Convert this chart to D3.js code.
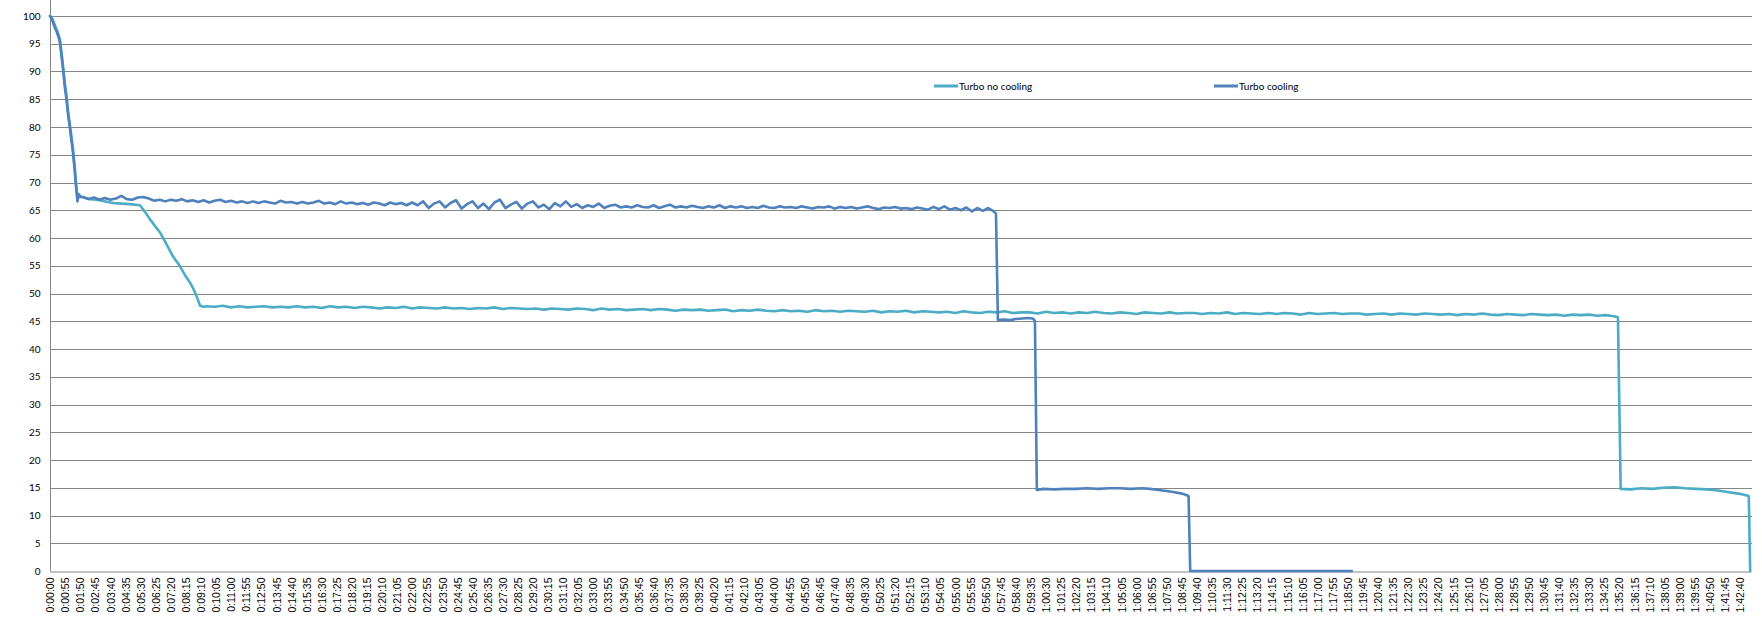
<!DOCTYPE html>
<html>
<head>
<meta charset="utf-8">
<script src="https://cdn.jsdelivr.net/npm/d3@7"></script>
<style>
  html, body { margin: 0; padding: 0; background: #fff; }
  svg { display: block; }
</style>
</head>
<body>
<svg id="chart" width="1762" height="635"></svg>
<script>
// ---------- DATA (time in seconds, value in %) ----------
const seriesNames = ["Turbo no cooling", "Turbo cooling"];
const yTicks = [0,5,10,15,20,25,30,35,40,45,50,55,60,65,70,75,80,85,90,95,100];
const xTickSeconds = d3.range(0, 6161, 55); // category labels every 0:00:55

// Turbo no cooling: start ramp
const noCoolHeadT = [0,6,12,18,24,30,36,42,48,54,60,66,72,78,84,90,95,100,110,130,150,170,190,210,230,260,290,328,345,364,382,401,420,448,474,492,510,525,536,547,560];
const noCoolHeadV = [100,99.7,99.1,98.3,97.6,96.8,95.8,93.4,90.8,87.9,85.6,82.8,80.6,78.3,75.9,72.8,69.8,67.2,67.5,67.2,67.0,66.9,66.7,66.5,66.3,66.2,66.1,65.9,64.8,63.4,62.2,61.0,59.3,56.7,54.9,53.3,52.0,50.6,49.3,47.8,47.6];
// Turbo no cooling: plateau, one reading every 30 s from 570 s to 5700 s
const noCoolPlateauStart = 570, noCoolPlateauStep = 30;
const noCoolPlateauV = [
  47.7,47.6,47.8,47.5,47.7,47.5,47.6,47.7,47.5,47.6,
  47.5,47.7,47.5,47.6,47.4,47.7,47.5,47.6,47.4,47.6,
  47.5,47.3,47.5,47.4,47.6,47.3,47.5,47.4,47.3,47.5,
  47.3,47.4,47.2,47.4,47.3,47.5,47.2,47.4,47.3,47.2,
  47.3,47.1,47.3,47.2,47.1,47.3,47.2,47.0,47.3,47.1,
  47.2,47.0,47.1,47.2,47.0,47.2,47.1,46.9,47.1,47.0,
  47.1,46.9,47.0,47.1,46.8,47.0,46.9,47.1,46.9,46.8,
  47.0,46.8,46.9,46.7,47.0,46.8,46.9,46.7,46.9,46.8,
  46.7,46.9,46.6,46.8,46.7,46.9,46.6,46.8,46.7,46.6,
  46.7,46.5,46.8,46.6,46.5,46.7,46.6,46.8,46.5,46.6,
  46.6,46.4,46.7,46.5,46.6,46.4,46.6,46.5,46.7,46.5,
  46.4,46.6,46.5,46.3,46.6,46.5,46.4,46.6,46.4,46.5,
  46.5,46.3,46.5,46.4,46.6,46.3,46.5,46.4,46.3,46.5,
  46.3,46.5,46.4,46.2,46.5,46.3,46.4,46.5,46.3,46.4,
  46.4,46.2,46.3,46.4,46.2,46.4,46.3,46.2,46.4,46.3,
  46.2,46.3,46.1,46.3,46.2,46.4,46.2,46.1,46.3,46.2,
  46.1,46.3,46.2,46.1,46.2,46.0,46.2,46.1,46.2,46.0,
  46.1,45.9
];
// Turbo no cooling: drop and tail
const noCoolTailT = [5715,5725,5760,5800,5840,5880,5920,5960,6000,6040,6080,6120,6160,6192,6197];
const noCoolTailV = [45.7,14.8,14.7,14.9,14.8,15.0,15.1,14.9,14.8,14.7,14.5,14.2,13.9,13.5,0];

// Turbo cooling: start ramp
const coolHeadT = [0,6,12,18,24,30,36,42,48,54,60,66,72,78,84,90,95,100,105,112];
const coolHeadV = [100,99.5,98.7,97.8,97.2,96.4,95.3,92.8,90.2,87.2,85.0,82.2,80.0,77.7,75.3,72.2,69.2,66.6,67.9,67.4];
// Turbo cooling: plateau, one reading every 20 s from 120 s to 3440 s
const coolPlateauStart = 120, coolPlateauStep = 20;
const coolPlateauV = [
  67.4,67.0,67.3,66.9,67.2,66.9,67.1,67.6,67.0,66.9,
  67.3,67.4,67.1,66.7,66.9,66.6,66.9,66.7,67.0,66.6,
  66.8,66.5,66.8,66.4,66.7,66.9,66.5,66.7,66.4,66.6,
  66.3,66.6,66.3,66.6,66.4,66.2,66.7,66.4,66.5,66.2,
  66.5,66.2,66.4,66.7,66.2,66.4,66.1,66.6,66.2,66.4,
  66.1,66.3,66.0,66.4,66.2,65.9,66.4,66.1,66.3,65.9,
  66.4,65.9,66.6,65.4,66.2,66.6,65.5,66.3,66.8,65.3,
  66.1,66.6,65.4,66.2,65.2,66.4,66.9,65.4,66.0,66.5,
  65.3,66.2,66.6,65.5,66.0,65.2,66.3,65.7,66.6,65.6,
  66.1,65.4,65.9,65.6,66.2,65.4,65.8,66.0,65.5,65.7,
  65.5,65.9,65.6,65.5,65.9,65.4,65.7,66.0,65.5,65.7,
  65.5,65.8,65.6,65.4,65.7,65.5,65.9,65.4,65.7,65.5,
  65.7,65.4,65.6,65.4,65.8,65.5,65.4,65.7,65.5,65.6,
  65.4,65.7,65.5,65.3,65.6,65.5,65.7,65.3,65.6,65.4,
  65.6,65.3,65.5,65.7,65.4,65.2,65.5,65.4,65.6,65.3,
  65.4,65.2,65.5,65.3,65.1,65.6,65.2,65.7,65.1,65.4,
  65.0,65.5,64.8,65.4,64.9,65.4,64.8
];
// Turbo cooling: drops and tail
const coolTailT = [3448,3455,3475,3500,3520,3545,3565,3582,3590,3597,3620,3660,3700,3740,3780,3820,3860,3900,3940,3980,4010,4040,4070,4100,4130,4150,4156,4745];
const coolTailV = [64.4,45.2,45.3,45.2,45.4,45.5,45.6,45.5,45.1,14.6,14.8,14.7,14.8,14.8,14.9,14.8,14.9,14.9,14.8,14.9,14.8,14.6,14.4,14.2,13.9,13.5,0,0];

const colors = ["#4BACC6", "#4F81BD"];

// ---------- BUILD SERIES ----------
function build(headT, headV, pStart, pStep, pV, tailT, tailV) {
  const pts = headT.map((t, i) => ({t, v: headV[i]}));
  pV.forEach((v, i) => pts.push({t: pStart + i * pStep, v}));
  tailT.forEach((t, i) => pts.push({t, v: tailV[i]}));
  return pts;
}
const noCool = build(noCoolHeadT, noCoolHeadV, noCoolPlateauStart, noCoolPlateauStep, noCoolPlateauV, noCoolTailT, noCoolTailV);
const cool = build(coolHeadT, coolHeadV, coolPlateauStart, coolPlateauStep, coolPlateauV, coolTailT, coolTailV);

// ---------- LAYOUT ----------
const svg = d3.select("#chart");
const plotL = 50, plotR = 1751, plotT = 16, plotB = 571;
const x = d3.scaleLinear().domain([0, 6200]).range([plotL, plotR]);
const y = d3.scaleLinear().domain([0, 100]).range([plotB, plotT]);

svg.append("rect").attr("width", 1762).attr("height", 635).attr("fill", "#fff");

// gridlines
svg.append("g")
  .selectAll("line")
  .data(yTicks.filter(d => d > 0))
  .join("line")
  .attr("x1", plotL).attr("x2", plotR + 1)
  .attr("y1", d => Math.round(y(d)) + 0.5).attr("y2", d => Math.round(y(d)) + 0.5)
  .attr("stroke", "#868686").attr("stroke-width", 1);

// y axis
const yAxis = d3.axisLeft(y).tickValues(yTicks).tickSize(0).tickPadding(10);
const gy = svg.append("g").attr("transform", `translate(${plotL + 0.5},0)`).call(yAxis);
gy.select(".domain").remove();
gy.selectAll("text").attr("font-family", "Lato, 'Open Sans', sans-serif").attr("font-size", 10).attr("fill", "#000");
svg.append("line").attr("x1", plotL + 0.5).attr("x2", plotL + 0.5).attr("y1", 0).attr("y2", plotB + 0.5)
  .attr("stroke", "#868686").attr("stroke-width", 1);

// x axis
function fmt(s) {
  const h = Math.floor(s / 3600), m = Math.floor((s % 3600) / 60), sec = s % 60;
  return `${h}:${String(m).padStart(2, "0")}:${String(sec).padStart(2, "0")}`;
}
const xAxis = d3.axisBottom(x).tickValues(xTickSeconds).tickFormat(fmt).tickSize(0).tickPadding(0);
const gx = svg.append("g").attr("transform", `translate(0,${Math.round(plotB) + 0.5})`).call(xAxis);
gx.select(".domain").attr("stroke", "#868686");
gx.selectAll("text")
  .attr("font-family", "'Liberation Sans', Arial, sans-serif")
  .attr("font-size", 10.5)
  .attr("fill", "#000")
  .attr("text-anchor", "end")
  .attr("dy", "0.35em")
  .attr("transform", "translate(0,6) rotate(-90)")
  .attr("x", 0).attr("y", 0);

// lines
const line = d3.line().x(d => x(d.t)).y(d => y(d.v));
[noCool, cool].forEach((data, i) => {
  svg.append("path")
    .datum(data)
    .attr("fill", "none")
    .attr("stroke", colors[i])
    .attr("stroke-width", 2.6)
    .attr("stroke-linejoin", "round")
    .attr("stroke-linecap", "round")
    .attr("d", line);
});

// legend
const legendX = [934, 1214];
const legend = svg.append("g");
seriesNames.forEach((name, i) => {
  legend.append("line")
    .attr("x1", legendX[i]).attr("x2", legendX[i] + 24)
    .attr("y1", 86).attr("y2", 86)
    .attr("stroke", colors[i]).attr("stroke-width", 3);
  legend.append("text")
    .attr("x", legendX[i] + 25).attr("y", 86)
    .attr("dy", "0.35em")
    .attr("font-family", "Lato, 'Open Sans', sans-serif")
    .attr("font-size", 10)
    .attr("fill", "#000")
    .text(name);
});
</script>
</body>
</html>
